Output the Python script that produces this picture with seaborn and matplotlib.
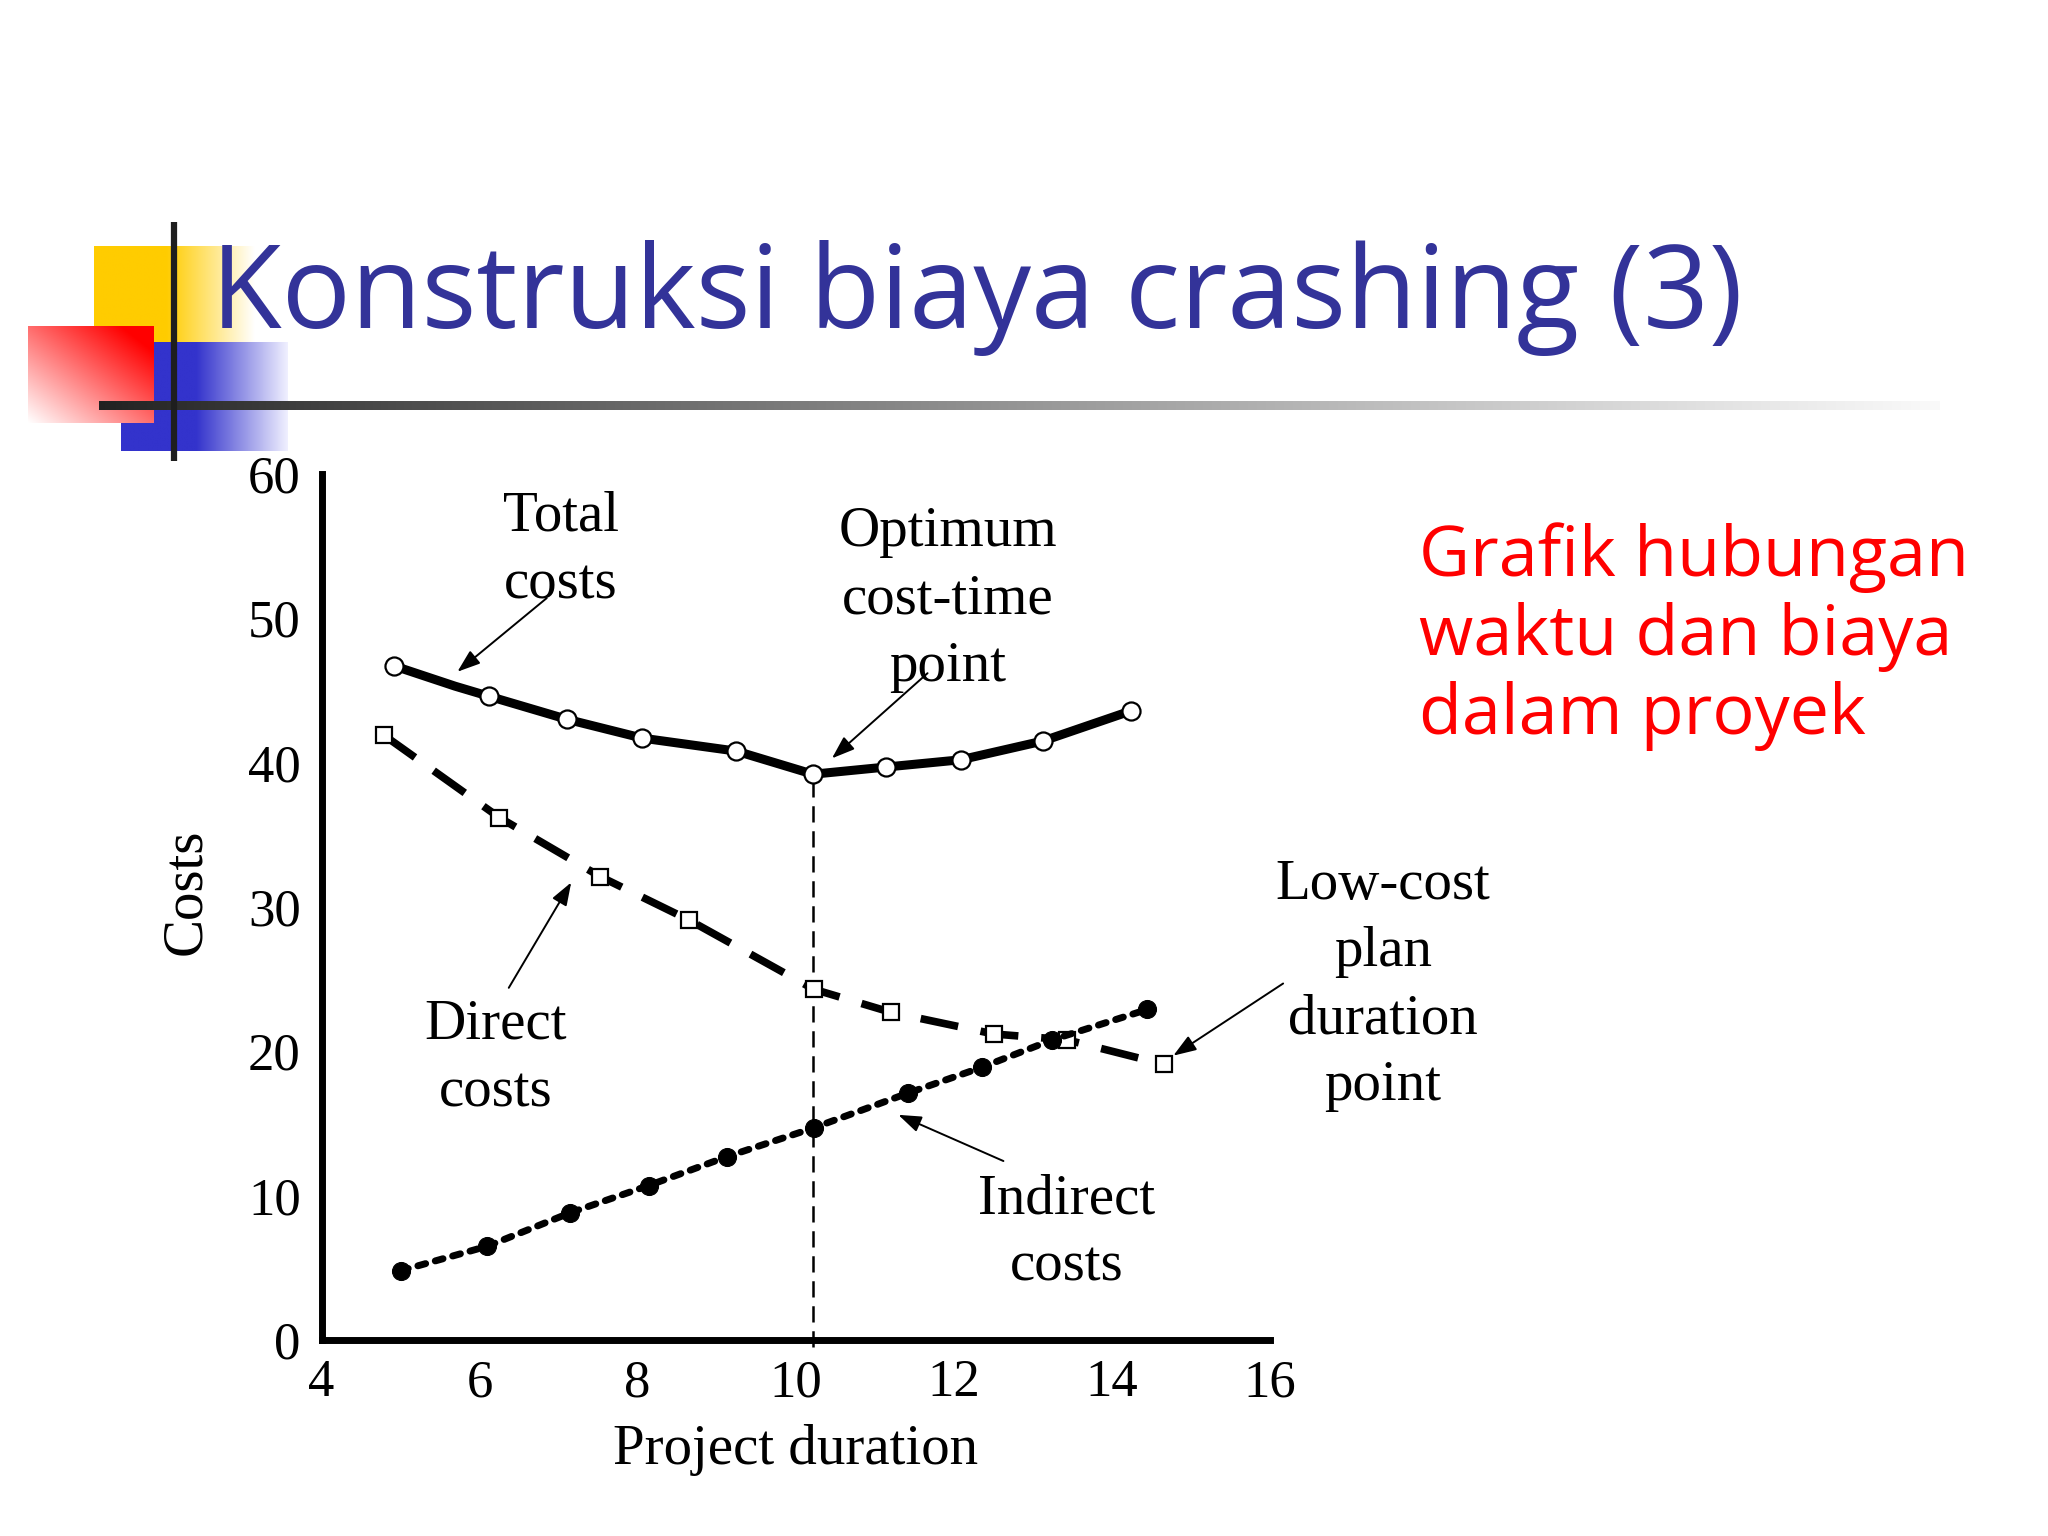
import numpy as np
import pandas as pd
import matplotlib
matplotlib.use("Agg")
import matplotlib.pyplot as plt
import seaborn as sns

# values
total_x = [4.92, 5.69, 6.12, 7.11, 8.06, 9.25, 10.22, 11.15, 12.09, 13.13, 14.25]
total_y = [46.7, 45.3, 44.6, 43.0, 41.7, 40.8, 39.2, 39.7, 40.2, 41.5, 43.6]
total_marked = [0, 2, 3, 4, 5, 6, 7, 8, 9, 10]  # 5.69 is a bend in the curve, no marker

direct_x = [4.79, 6.25, 7.53, 8.65, 10.23, 11.21, 12.51, 13.43, 14.66]
direct_y = [41.9, 36.2, 32.1, 29.1, 24.3, 22.7, 21.2, 20.8, 19.1]

indirect_x = [5.0, 6.10, 7.14, 8.14, 9.13, 10.23, 11.42, 12.36, 13.25, 14.45]
indirect_y = [4.8, 6.5, 8.8, 10.7, 12.7, 14.7, 17.1, 18.9, 20.8, 22.9]

x_ticks = [4, 6, 8, 10, 12, 14, 16]
y_ticks = [0, 10, 20, 30, 40, 50, 60]

TITLE = "Konstruksi biaya crashing (3)"
SIDE_NOTE = "Grafik hubungan\nwaktu dan biaya\ndalam proyek"
SERIF = ["Liberation Serif", "DejaVu Serif"]

sns.set_style("white")
plt.rcParams["font.family"] = ["Open Sans", "DejaVu Sans"]
for key in ("text.color", "axes.labelcolor", "xtick.color", "ytick.color"):
    plt.rcParams[key] = "black"

W, H = 2048, 1536
fig = plt.figure(figsize=(W / 100, H / 100), dpi=100)

# slide decoration drawn in pixel space
deco = fig.add_axes([0, 0, 1, 1])
deco.set_xlim(0, W)
deco.set_ylim(H, 0)
deco.axis("off")


def hgrad(c0, c1, x0, x1, y0, y1, solid_frac=0.0, n=256, power=1.0):
    t = np.linspace(0, 1, n)
    t = np.clip((t - solid_frac) / (1 - solid_frac), 0, 1) ** power
    c0 = np.array(matplotlib.colors.to_rgb(c0))
    c1 = np.array(matplotlib.colors.to_rgb(c1))
    img = c0[None, :] * (1 - t[:, None]) + c1[None, :] * t[:, None]
    deco.imshow(img[None, :, :], extent=(x0, x1, y1, y0), aspect="auto",
                interpolation="bilinear", zorder=1)


hgrad("#ffcc00", "#ffffff", 94, 255, 246, 342, solid_frac=0.45)
hgrad("#3333cc", "#f0f0ff", 121, 288, 342, 451, solid_frac=0.45)

# red square: white bottom-left to red top-right
u = np.linspace(0, 1, 128)
uu, vv = np.meshgrid(u, u[::-1])
tt = np.clip((uu + vv) / 2.0 * 1.15, 0, 1)
red = np.ones((128, 128, 3))
red[..., 1] = 1 - tt
red[..., 2] = 1 - tt
deco.imshow(red, extent=(28, 154, 423, 326), aspect="auto", interpolation="bilinear", zorder=2)

# gradient rule under the title
g = np.linspace(0, 1, 512) ** 0.9
grey = 0.13 + 0.85 * g
rule = np.stack([grey, grey, grey], axis=1)[None, :, :]
deco.imshow(rule, extent=(99, 1940, 410, 401), aspect="auto", interpolation="bilinear", zorder=3)
deco.plot([174, 174], [222, 461], color="#1e1e1e", lw=4.5, solid_capstyle="butt", zorder=4)

fig.text(211 / W, 1 - 328 / H, TITLE, fontsize=83, color="#333399", va="baseline", ha="left")
fig.text(1419 / W, 1 - 522 / H, SIDE_NOTE, fontsize=50.5, color="#ff0000", va="top", ha="left",
         linespacing=1.17)

# chart
ax = fig.add_axes([321.5 / W, 1 - 1340 / H, 948.2 / W, 866 / H])
ax.patch.set_alpha(0)

sns.lineplot(x=total_x, y=total_y, ax=ax, color="black", lw=6.5, sort=False,
             marker="o", markevery=total_marked, markersize=13, markerfacecolor="white",
             markeredgecolor="black", markeredgewidth=1.6, zorder=5)
sns.lineplot(x=direct_x, y=direct_y, ax=ax, color="black", lw=5.5, sort=False,
             marker="s", markersize=12, markerfacecolor="white", markeredgecolor="black",
             markeredgewidth=1.6, zorder=5)
ax.lines[-1].set_linestyle((0, (5.0, 3.0)))
sns.lineplot(x=indirect_x, y=indirect_y, ax=ax, color="black", lw=5, sort=False,
             marker="o", markersize=13, markerfacecolor="black", markeredgecolor="black", zorder=5)
ax.lines[-1].set_linestyle((0, (1.16, 1.44)))
ax.lines[-1].set_dash_capstyle("round")

opt = int(np.argmin(total_y))
ax.plot([total_x[opt], total_x[opt]], [-0.5, total_y[opt]], color="black", lw=1.8,
        linestyle=(0, (6.5, 3.5)), zorder=4, clip_on=False)

ax.set_xlim(4, 16)
ax.set_ylim(0, 60)
ax.set_xticks(x_ticks)
ax.set_yticks(y_ticks)
for side in ("top", "right"):
    ax.spines[side].set_visible(False)
for side in ("left", "bottom"):
    ax.spines[side].set_linewidth(5)
    ax.spines[side].set_color("black")
ax.tick_params(direction="in", length=14, width=5, color="black", labelsize=38)
ax.tick_params(axis="x", pad=14)
ax.tick_params(axis="y", pad=15)
for lab in ax.get_xticklabels() + ax.get_yticklabels():
    lab.set_family(SERIF)
ax.set_xlabel("Project duration", fontsize=41, family=SERIF, labelpad=12)
ax.set_ylabel("Costs", fontsize=41, family=SERIF)
ax.yaxis.set_label_coords(-0.115, 0.518)

text_kw = dict(fontsize=41, family=SERIF, ha="center", va="center", linespacing=1.38,
               annotation_clip=False)
arrow_kw = dict(arrowstyle="-|>,head_length=0.7,head_width=0.25", color="black", lw=1.4,
                shrinkA=0, shrinkB=0, mutation_scale=20)

ax.annotate("Total\ncosts", xy=(7.03, 54.7), **text_kw)
ax.annotate("", xy=(5.72, 46.3), xytext=(6.85, 51.4), arrowprops=arrow_kw)

ax.annotate("Optimum\ncost-time\npoint", xy=(11.93, 51.3), **text_kw)
ax.annotate("", xy=(10.46, 40.3), xytext=(11.67, 46.2), arrowprops=arrow_kw)

ax.annotate("Direct\ncosts", xy=(6.2, 19.5), **text_kw)
ax.annotate("", xy=(7.16, 31.7), xytext=(6.37, 24.4), arrowprops=arrow_kw)

ax.annotate("Indirect\ncosts", xy=(13.43, 7.4), **text_kw)
ax.annotate("", xy=(11.30, 15.6), xytext=(12.63, 12.4), arrowprops=arrow_kw)

ax.annotate("Low-cost\nplan\nduration\npoint", xy=(17.43, 24.55), **text_kw)
ax.annotate("", xy=(14.78, 19.7), xytext=(16.17, 24.7), arrowprops=arrow_kw,
            annotation_clip=False)

fig.savefig("out.png", dpi=100)
